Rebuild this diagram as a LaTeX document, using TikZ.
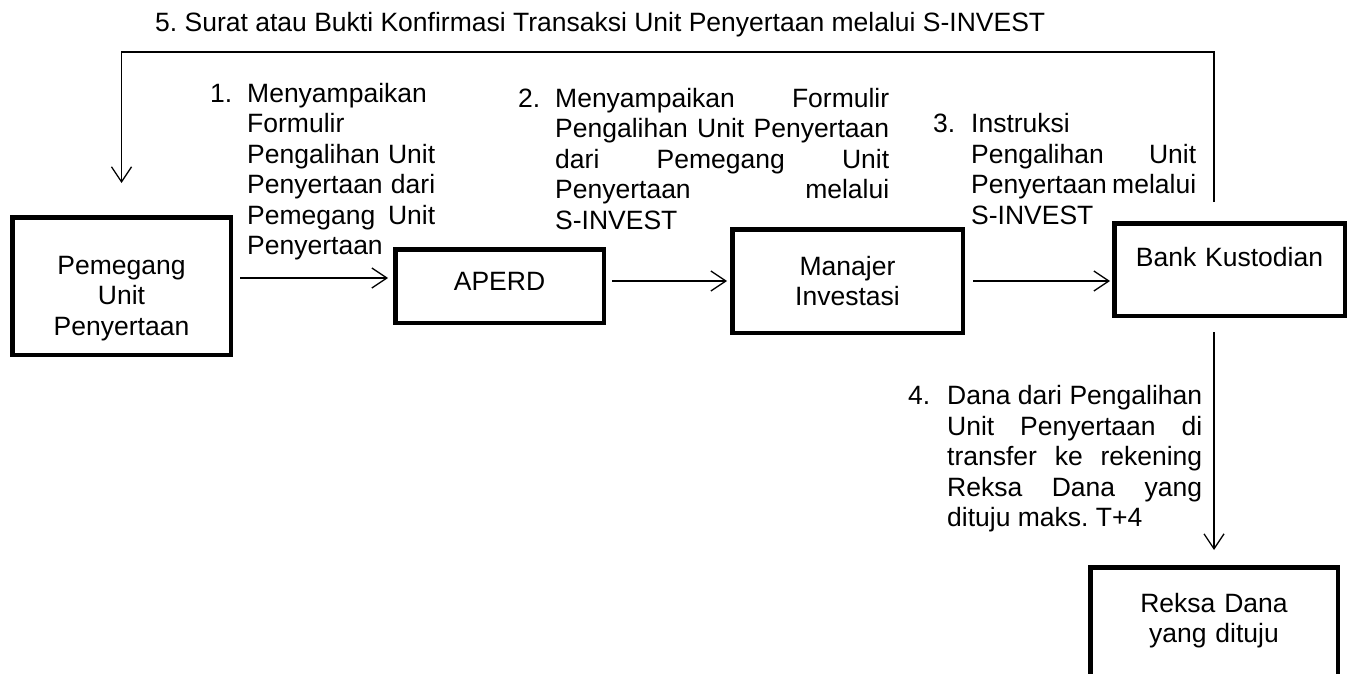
\documentclass[tikz,border=0pt]{standalone}
\usepackage{fontspec}
\setmainfont{Liberation Sans}
\usetikzlibrary{arrows.meta}
\frenchspacing
\tikzset{
  box/.style={draw, line width=4.5pt, inner sep=0pt},
  boxtext/.style={anchor=base, align=center, text width=200pt, inner sep=0pt},
  lbl/.style={anchor=base west, align=justify, inner sep=0pt},
  arr/.style={line width=1.3pt, -{Straight Barb[length=15pt,width=20pt,line width=1.3pt]}},
}
\newcommand{\hang}[2]{\hangindent=#1\hangafter=1\makebox[#1][l]{#2}}
\begin{document}
\begin{tikzpicture}[x=1pt,y=-1pt,font=\fontsize{26.5}{30.5}\selectfont]
\useasboundingbox (0,0) rectangle (1354,674);
\hyphenpenalty=10000 \exhyphenpenalty=10000

% boxes
\node[box, minimum width=218.5pt, minimum height=137.5pt] (pup) at (121.5,286) {};
\node[box, minimum width=208.5pt, minimum height=73.5pt] (aperd) at (499.5,286) {};
\node[box, minimum width=230.5pt, minimum height=103.5pt] (mi) at (847.5,281) {};
\node[box, minimum width=230.5pt, minimum height=92.5pt] (bk) at (1229.5,269.5) {};
\node[box, minimum width=247.5pt, minimum height=120.5pt] (rd) at (1214,627.5) {};

% box texts
\node[boxtext] (pup-t) at (121.5,274) {Pemegang\\Unit\\Penyertaan};
\node[boxtext] (aperd-t) at (499.5,290) {APERD};
\node[boxtext] (mi-t) at (847.5,275) {Manajer\\Investasi};
\node[boxtext] (bk-t) at (1229.5,266) {Bank Kustodian};
\node[boxtext] (rd-t) at (1214,612) {Reksa Dana\\yang dituju};

% labels
\node[anchor=base west, inner sep=0pt] (l5) at (155,32)
  {5. Surat atau Bukti Konfirmasi Transaksi Unit Penyertaan melalui S-INVEST};
\node[lbl, text width=225pt] (l1) at (210,102.5)
  {\hang{37pt}{1.}Menyampaikan\newline Formulir\newline Pengalihan Unit\linebreak Penyertaan dari\linebreak Pemegang Unit\linebreak Penyertaan\par};
\node[lbl, text width=371pt] (l2) at (518,107.5)
  {\hang{37pt}{2.}Menyampaikan Formulir\linebreak Pengalihan Unit Penyertaan\linebreak dari Pemegang Unit\linebreak Penyertaan melalui\linebreak S-INVEST\par};
\node[lbl, text width=263pt] (l3) at (933,132.5)
  {\hang{38pt}{3.}Instruksi\newline Pengalihan Unit\linebreak Penyertaan melalui\linebreak S-INVEST\par};
\node[lbl, text width=294pt] (l4) at (908,404.5)
  {\hang{39pt}{4.}Dana dari Pengalihan\linebreak Unit Penyertaan di\linebreak transfer ke rekening\linebreak Reksa Dana yang\linebreak dituju maks. T+4\par};

% connectors
\coordinate (c5) at (121.5,52);
\draw[arr, shorten <=7pt, shorten >=5pt] (pup.east |- 0,278) -- (aperd.west |- 0,278);
\draw[arr, shorten <=6pt, shorten >=3pt] (aperd.east |- 0,281) -- (mi.west |- 0,281);
\draw[arr, shorten <=8pt, shorten >=2pt] (mi.east |- 0,281) -- (bk.west |- 0,281);
\draw[arr, shorten <=14pt, shorten >=15pt] (bk.south -| rd.north) -- (rd.north);
\draw[arr, shorten <=19pt, shorten >=32pt] (bk.north -| rd.north) |- (c5) -- (pup.north);
\end{tikzpicture}
\end{document}
